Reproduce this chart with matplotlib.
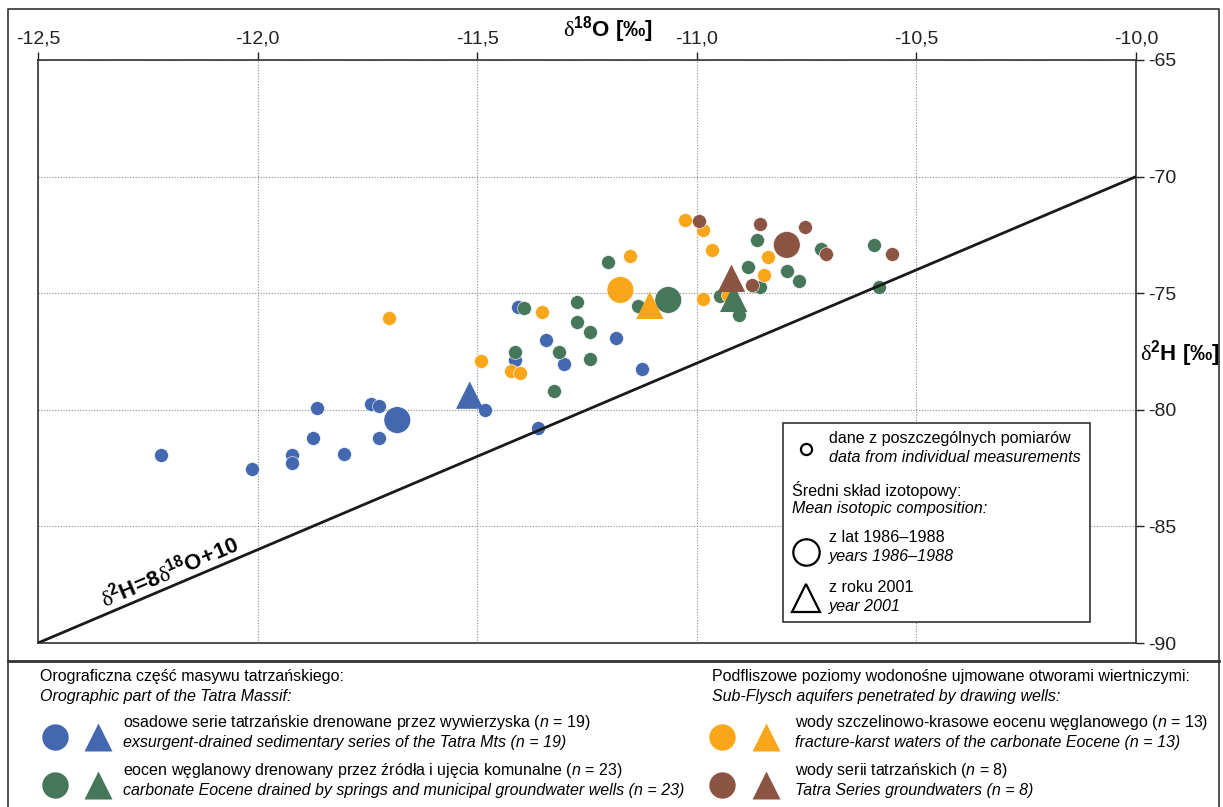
import math
import matplotlib
matplotlib.use("Agg")
import matplotlib.pyplot as plt
from matplotlib import font_manager
from matplotlib.patches import Rectangle

# wybor czcionki (waska jak Arial Narrow, jesli jest)
nazwy = {f.name for f in font_manager.fontManager.ttflist}
jest_waska = "Liberation Sans Narrow" in nazwy
waska = "Liberation Sans Narrow" if jest_waska else "Liberation Sans"
k = 1.0 if jest_waska else 0.88   # zwykla czcionka jest szersza -> mniejszy rozmiar
plt.rcParams["font.family"] = [waska, "DejaVu Sans"]
plt.rcParams["mathtext.fontset"] = "custom"
plt.rcParams["mathtext.rm"] = "Liberation Serif"
plt.rcParams["mathtext.bf"] = waska + ":bold"
plt.rcParams["mathtext.it"] = waska + ":italic"

##################################################################################
# Dane: delta 18O i delta 2H [permil]
##################################################################################
# osadowe serie tatrzanskie (niebieskie)
blue_o18 = [-12.221, -12.012, -11.921, -11.921, -11.873, -11.864, -11.803, -11.742, -11.723,
            -11.723, -11.483, -11.362, -11.406, -11.413, -11.343, -11.303, -11.185, -11.125]
blue_h2 = [-81.94, -82.54, -81.94, -82.30, -81.22, -79.91, -81.91, -79.74, -79.84,
           -81.22, -80.01, -80.79, -75.60, -77.86, -77.02, -78.02, -76.93, -78.25]

# eocen weglanowy - zrodla i ujecia (zielone)
green_o18 = [-11.394, -11.413, -11.325, -11.313, -11.273, -11.273, -11.243, -11.243, -11.203,
             -11.135, -10.948, -10.904, -10.883, -10.873, -10.855, -10.864, -10.795, -10.767,
             -10.717, -10.597, -10.586]
green_h2 = [-75.62, -77.53, -79.21, -77.51, -75.36, -76.24, -76.68, -77.82, -73.65,
            -75.54, -75.12, -75.92, -73.86, -74.69, -74.72, -72.72, -74.03, -74.48,
            -73.12, -72.93, -74.72]

# wody szczelinowo-krasowe eocenu (pomaranczowe)
orange_o18 = [-11.701, -11.492, -11.422, -11.403, -11.353, -11.153, -11.026, -10.986, -10.965,
              -10.986, -10.837, -10.847, -10.929]
orange_h2 = [-76.05, -77.89, -78.32, -78.44, -75.82, -73.42, -71.85, -72.29, -73.16,
             -75.26, -73.43, -74.22, -75.08]

# wody serii tatrzanskich (brazowe)
brown_o18 = [-10.995, -10.855, -10.753, -10.706, -10.556, -10.874]
brown_h2 = [-71.92, -72.02, -72.16, -73.33, -73.33, -74.65]

# srednie 1986-1988 (kolka) i 2001 (trojkaty): niebieski, zielony, pomaranczowy, brazowy
mean8688_o18 = [-11.682, -11.065, -11.174, -10.795]
mean8688_h2 = [-80.44, -75.29, -74.86, -72.93]
mean2001_o18 = [-11.517, -10.916, -11.107, -10.921]
mean2001_h2 = [-79.37, -75.22, -75.52, -74.36]

# globalna linia wod meteorycznych: d2H = 8 d18O + 10
lmwl_a = 8
lmwl_b = 10

x_ticks = [-12.5, -12.0, -11.5, -11.0, -10.5, -10.0]
y_ticks = [-65, -70, -75, -80, -85, -90]

colors = ["#4468b0", "#46775a", "#f9a61b", "#8c5543"]

##################################################################################
# Wykres
##################################################################################
W, H = 1223, 807
fig = plt.figure(figsize=(W / 100, H / 100), dpi=100)
ax = fig.add_axes([38 / W, 1 - 643 / H, (1136 - 38) / W, (643 - 60) / H])

series = [(blue_o18, blue_h2), (green_o18, green_h2), (orange_o18, orange_h2), (brown_o18, brown_h2)]
for (xs, ys), c in zip(series, colors):
    ax.scatter(xs, ys, s=100, color=c, edgecolor="white", linewidth=0.4, zorder=3)
ax.scatter(mean8688_o18, mean8688_h2, s=370, c=colors, edgecolor="white", linewidth=0.4, zorder=4)
ax.scatter(mean2001_o18, mean2001_h2, s=390, c=colors, marker="^", edgecolor="none", zorder=5)

ax.set_xlim(x_ticks[0], x_ticks[-1])
ax.set_ylim(y_ticks[-1], y_ticks[0])

lx = [x_ticks[0], x_ticks[-1]]
ax.plot(lx, [lmwl_a * v + lmwl_b for v in lx], color="#1a1a1a", lw=2, zorder=6)

# etykieta linii wzdluz niej
p1 = ax.transData.transform((lx[0], lmwl_a * lx[0] + lmwl_b))
p2 = ax.transData.transform((lx[1], lmwl_a * lx[1] + lmwl_b))
kat = math.degrees(math.atan2(p2[1] - p1[1], p2[0] - p1[0]))
x0 = -12.348
ax.text(x0, lmwl_a * x0 + lmwl_b + 0.3,
        r"$\mathrm{\delta}^{\mathbf{2}}\mathbf{H\!=\!8}\mathrm{\delta}^{\mathbf{18}}\mathbf{O\!+\!10}$",
        rotation=kat, rotation_mode="anchor", ha="left", va="baseline", fontsize=17 * k + 1,
        zorder=7)

ax.set_xticks(x_ticks)
ax.set_xticklabels([f"{v:.1f}".replace(".", ",") for v in x_ticks])
ax.set_yticks(y_ticks)
ax.set_yticklabels([str(v) for v in y_ticks])
ax.xaxis.tick_top()
ax.yaxis.tick_right()
ax.tick_params(direction="out", length=6, width=1, labelsize=14, pad=3, colors="#222222")
ax.grid(True, linestyle=(0, (1, 1.5)), color="#888888", linewidth=0.8, zorder=0)
for s in ax.spines.values():
    s.set_linewidth(1.2)
    s.set_color("#333333")

##################################################################################
# Warstwa z opisami (wspolrzedne w pikselach)
##################################################################################
ov = fig.add_axes([0, 0, 1, 1], zorder=10)
ov.set_xlim(0, W)
ov.set_ylim(H, 0)
ov.axis("off")

# ramka calego rysunku i linia oddzielajaca legende
ov.plot([8, 8, 1219, 1219], [H + 5, 9, 9, H + 5], color="#333333", lw=1.2, clip_on=False)
ov.plot([8, 1219], [661, 661], color="#333333", lw=2)

# tytuly osi
ov.text(608, 30, r"$\mathrm{\delta}^{\mathbf{18}}\mathbf{O\ [‰]}$", fontsize=16,
        ha="center", va="center")
ov.text(1140, 354, r"$\mathrm{\delta}^{\mathbf{2}}\mathbf{H\ [‰]}$", fontsize=16,
        ha="left", va="center")

# legenda wewnatrz wykresu
ov.add_patch(Rectangle((783, 423), 307, 199, facecolor="white", edgecolor="#333333", lw=1.2))
fs = 13.2 * k
ov.plot(806, 449, "o", ms=8, mfc="none", mec="black", mew=1.6)
ov.text(829, 438, "dane z poszczególnych pomiarów", fontsize=fs, va="center")
ov.text(829, 458, "data from individual measurements", fontsize=fs, va="center", style="italic")
ov.text(792, 490, "Średni skład izotopowy:", fontsize=fs, va="center")
ov.text(792, 509, "Mean isotopic composition:", fontsize=fs, va="center", style="italic")
ov.plot(806, 552, "o", ms=19, mfc="none", mec="black", mew=1.6)
ov.text(829, 538, "z lat 1986–1988", fontsize=fs, va="center")
ov.text(829, 557, "years 1986–1988", fontsize=fs, va="center", style="italic")
ov.plot(806, 598, "^", ms=20, mfc="none", mec="black", mew=1.6)
ov.text(829, 587, "z roku 2001", fontsize=fs, va="center")
ov.text(829, 607, "year 2001", fontsize=fs, va="center", style="italic")

# legenda pod wykresem
fl = 13.1 * k
ov.text(40, 677, "Orograficzna część masywu tatrzańskiego:", fontsize=fl, va="center")
ov.text(40, 697, "Orographic part of the Tatra Massif:", fontsize=fl, va="center", style="italic")
ov.text(712, 677, "Podfliszowe poziomy wodonośne ujmowane otworami wiertniczymi:", fontsize=fl, va="center")
ov.text(712, 697, "Sub-Flysch aquifers penetrated by drawing wells:", fontsize=fl, va="center", style="italic")

wpisy = [
    (55, 98, 123, 737, colors[0],
     "osadowe serie tatrzańskie drenowane przez wywierzyska ($\\mathit{n}$ = 19)",
     "exsurgent-drained sedimentary series of the Tatra Mts (n = 19)"),
    (55, 98, 123, 785, colors[1],
     "eocen węglanowy drenowany przez źródła i ujęcia komunalne ($\\mathit{n}$ = 23)",
     "carbonate Eocene drained by springs and municipal groundwater wells (n = 23)"),
    (722, 766, 795, 737, colors[2],
     "wody szczelinowo-krasowe eocenu węglanowego ($\\mathit{n}$ = 13)",
     "fracture-karst waters of the carbonate Eocene (n = 13)"),
    (722, 766, 795, 785, colors[3],
     "wody serii tatrzańskich ($\\mathit{n}$ = 8)",
     "Tatra Series groundwaters (n = 8)"),
]
for xc, xt, xtxt, yy, c, pl, en in wpisy:
    ov.plot(xc, yy, "o", ms=19, color=c, mec="none")
    ov.plot(xt, yy, "^", ms=20, color=c, mec="none")
    ov.text(xtxt, yy - 14, pl, fontsize=fl, va="center")
    ov.text(xtxt, yy + 6, en, fontsize=fl, va="center", style="italic")

fig.savefig("out.png", dpi=100)
